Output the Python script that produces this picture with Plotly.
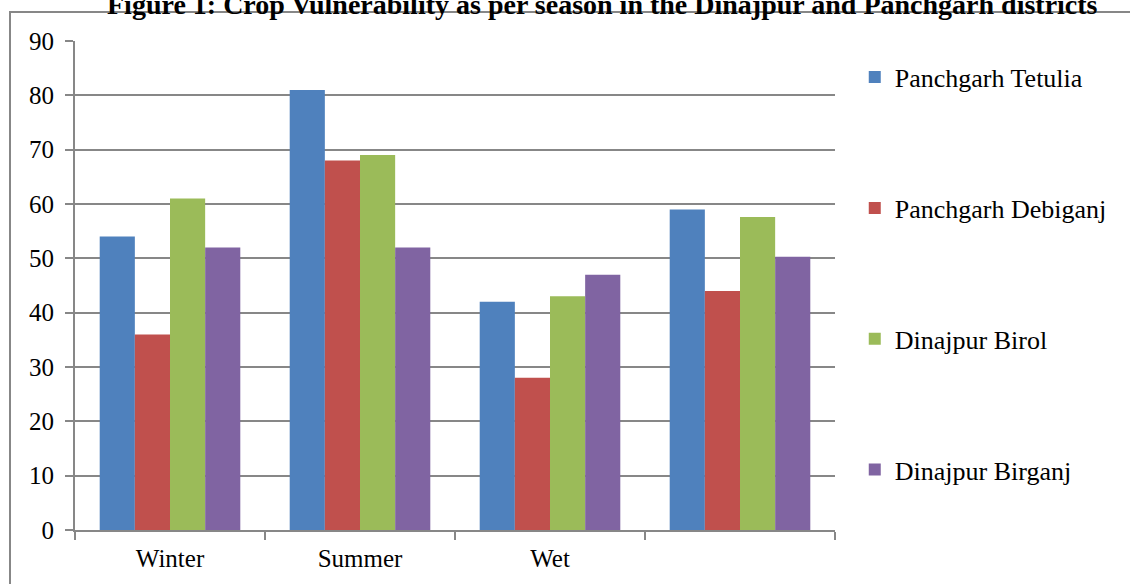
import plotly.graph_objects as go

# Seasons (the fourth group carries no label on the axis)
seasons = ["Winter", "Summer", "Wet", " "]

# Crop vulnerability by district / upazila
panchgarh_tetulia = [54, 81, 42, 59]
panchgarh_debiganj = [36, 68, 28, 44]
dinajpur_birol = [61, 69, 43, 57.6]
dinajpur_birganj = [52, 52, 47, 50.3]

series_names = ["Panchgarh Tetulia", "Panchgarh Debiganj", "Dinajpur Birol", "Dinajpur Birganj"]
series_values = [panchgarh_tetulia, panchgarh_debiganj, dinajpur_birol, dinajpur_birganj]
colors = ["#4F81BD", "#C0504D", "#9BBB59", "#8064A2"]

y_ticks = list(range(0, 100, 10))

FONT = "Liberation Serif, Times New Roman, serif"
GRID = "#878787"

fig = go.Figure()
for i, (name, vals, col) in enumerate(zip(series_names, series_values, colors)):
    fig.add_trace(go.Bar(
        x=seasons, y=vals, name=name, legendgroup=f"g{i}",
        marker=dict(color=col, line=dict(width=0)),
    ))

fig.update_layout(
    width=1130, height=584,
    margin=dict(l=75, r=295, t=41, b=54),
    paper_bgcolor="white", plot_bgcolor="white",
    barmode="group", bargap=0.26, bargroupgap=0,
    font=dict(family=FONT, size=25, color="black"),
    showlegend=True,
    legend=dict(
        x=1.026, y=0.974, xanchor="left", yanchor="top",
        font=dict(family=FONT, size=26, color="black"),
        tracegroupgap=94, itemwidth=30,
        bgcolor="rgba(0,0,0,0)",
    ),
    xaxis=dict(
        type="category", tickson="boundaries",
        showline=True, linecolor=GRID, linewidth=2,
        ticks="outside", ticklen=8, tickwidth=2, tickcolor=GRID,
        ticklabelstandoff=5,
        tickfont=dict(family=FONT, size=25, color="black"),
        showgrid=False, zeroline=False,
    ),
    yaxis=dict(
        range=[0, 90], tickvals=y_ticks,
        showline=True, linecolor=GRID, linewidth=2,
        ticks="outside", ticklen=8, tickwidth=2, tickcolor=GRID,
        ticklabelstandoff=6,
        tickfont=dict(family=FONT, size=25, color="black"),
        showgrid=True, gridcolor=GRID, gridwidth=2,
        zeroline=False,
    ),
    shapes=[
        # chart frame (runs off the right and bottom edges)
        dict(type="rect", xref="paper", yref="paper",
             x0=(10 - 75) / 760, x1=1.6, y0=-0.3, y1=(530 - 12) / 489,
             line=dict(color=GRID, width=2), fillcolor="rgba(0,0,0,0)", layer="below"),
    ],
    annotations=[
        dict(text="<b>Figure 1: Crop Vulnerability as per season in the Dinajpur and Panchgarh districts</b>",
             xref="paper", yref="paper", x=(602 - 75) / 760, y=(530 - 22) / 489,
             xanchor="center", yanchor="bottom", showarrow=False,
             font=dict(family=FONT, size=28, color="black")),
    ],
)

fig.write_html("out.html")
